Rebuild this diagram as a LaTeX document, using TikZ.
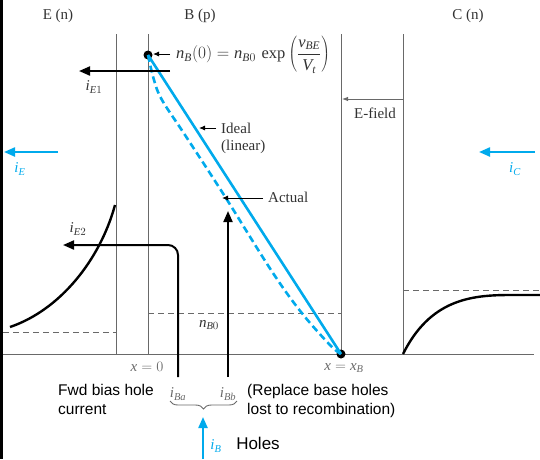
\documentclass[tikz,border=0pt]{standalone}
\usepackage{fontspec}
\setmainfont{Liberation Serif}
\newfontfamily\arial{Liberation Sans}
\usetikzlibrary{arrows.meta,decorations.pathreplacing}
\definecolor{cy}{RGB}{0,170,236}
\definecolor{ln}{RGB}{105,105,105}
\definecolor{tx}{RGB}{50,50,50}
\newcommand{\myit}[1]{\mathit{#1}}
\begin{document}
\begin{tikzpicture}[x=1pt,y=-1pt,
  gline/.style={draw=ln, line width=0.9pt},
  dline/.style={draw=ln, line width=0.9pt, dash pattern=on 6pt off 4pt},
  lbl/.style={font=\fontsize{15}{17}\selectfont, text=tx, inner sep=0pt},
  glbl/.style={font=\fontsize{15}{17}\selectfont, text=ln, inner sep=0pt},
  sl/.style={font=\arial\fontsize{15.5}{19}\selectfont, inner sep=0pt, align=left},
  barrow/.style={line width=2pt, -{Triangle[length=11pt,width=9pt]}},
  carrow/.style={draw=cy, line width=2.2pt, -{Triangle[length=11pt,width=9pt]}},
  ptr/.style={line width=0.9pt, -{Latex[length=6pt,width=5pt]}},
  bigdot/.style={circle, fill=black, inner sep=0pt, minimum size=9pt}
]
\useasboundingbox (0,0) rectangle (540,459);
% left border
\coordinate (bt) at (1.5,0); \coordinate (bb) at (1.5,459);
\draw[line width=3pt] (bt) -- (bb);
% axis
\coordinate (ax0) at (3,354); \coordinate (ax1) at (534,354);
\draw[gline] (ax0) -- (ax1);
% vertical boundaries
\foreach \n/\x in {a/116,b/148,c/341,d/403}{
  \coordinate (\n t) at (\x,34); \coordinate (\n b) at (\x,354);
  \draw[gline] (\n t) -- (\n b);
}
% region labels
\node[lbl] (lE) at (58,16) {E (n)};
\node[lbl] (lB) at (200,16) {B (p)};
\node[lbl] (lC) at (468,16) {C (n)};
% dashed equilibrium levels
\coordinate (e0) at (3,332); \coordinate (e1) at (116,332);
\draw[dline] (e0) -- (e1);
\coordinate (n0) at (148,313); \coordinate (n1) at (341,313);
\draw[dline] (n0) -- (n1);
\coordinate (c0) at (403,290); \coordinate (c1) at (540,290);
\draw[dline] (c0) -- (c1);
\node[lbl] (nB0) at (209,325) {$\myit{n}_{\myit{B}0}$};
% emitter and collector minority carrier curves
\draw[line width=2.4pt] (10,327) .. controls (60,310) and (100,260) .. (115,205);
\draw[line width=2.4pt] (403,354) .. controls (430,300) and (470,295) .. (510,295) -- (540,295);
% base profiles
\node[bigdot] (d0) at (148,55) {};
\node[bigdot] (dB) at (341,354) {};
\draw[cy, line width=2.6pt] (d0.center) -- (dB.center);
\draw[cy, line width=2.6pt, dash pattern=on 7pt off 4pt] plot[smooth, tension=0.6] coordinates
  {(148,55) (154,80) (162,100) (185,135) (224,195) (271,270) (301,312) (330,345) (341,354)};
% n_B(0) annotation
\coordinate (p0s) at (170,54); \coordinate (p0e) at (153,54);
\draw[ptr] (p0s) -- (p0e);
\node[anchor=west, inner sep=0pt, font=\fontsize{16.5}{19}\selectfont, text=tx] (nb0) at (176,55)
  {$\myit{n}_{\myit{B}}(0) = \myit{n}_{\myit{B}0}\,\exp\left(\displaystyle\frac{\myit{v}_{\myit{BE}}}{\myit{V}_{\myit{t}}}\right)$};
% Ideal annotation
\coordinate (pis) at (216,128); \coordinate (pie) at (199,128);
\draw[ptr] (pis) -- (pie);
\node[lbl, anchor=west, align=left] (ideal) at (221,138) {Ideal\\(linear)};
% Actual annotation
\coordinate (pas) at (263,198); \coordinate (pae) at (222,198);
\draw[ptr] (pas) -- (pae);
\node[lbl, anchor=west] (actual) at (268,197) {Actual};
% i_E1
\coordinate (e1s) at (170,71); \coordinate (e1e) at (79,71);
\draw[barrow] (e1s) -- (e1e);
\node[lbl] (iE1) at (94,87) {$\myit{i}_{\myit{E}1}$};
% i_E2 / i_Ba
\coordinate (bas) at (178,377); \coordinate (bac) at (178,245); \coordinate (bae) at (63,245);
\draw[barrow, rounded corners=10pt] (bas) -- (bac) -- (bae);
\node[lbl] (iE2) at (78,229) {$\myit{i}_{\myit{E}2}$};
% i_Bb
\coordinate (bbs) at (228,377); \coordinate (bbe) at (228,211);
\draw[barrow] (bbs) -- (bbe);
% E-field
\coordinate (efs) at (403,99); \coordinate (efe) at (342,99);
\draw[ln, line width=0.9pt, -{Latex[length=6pt,width=4.5pt]}] (efs) -- (efe);
\node[lbl] (ef) at (375,113) {E-field};
% terminal currents
\coordinate (ies) at (58,152); \coordinate (iee) at (4,152);
\draw[carrow] (ies) -- (iee);
\node[font=\fontsize{15}{17}\selectfont, text=cy, inner sep=0pt] (iE) at (20,169) {$\myit{i}_{\myit{E}}$};
\coordinate (ics) at (535,152); \coordinate (ice) at (479,152);
\draw[carrow] (ics) -- (ice);
\node[font=\fontsize{15}{17}\selectfont, text=cy, inner sep=0pt] (iC) at (515,169) {$\myit{i}_{\myit{C}}$};
% x labels
\node[glbl] (x0) at (147,367) {$\myit{x} = 0$};
\node[glbl] (xB) at (344,368) {$\myit{x} = \myit{x}_{\myit{B}}$};
% bottom annotations
\node[sl, anchor=north west] (fwd) at (58,384) {Fwd bias hole\\current};
\node[glbl] (iBa) at (178,394) {$\myit{i}_{\myit{Ba}}$};
\node[glbl] (iBb) at (228,394) {$\myit{i}_{\myit{Bb}}$};
\node[sl, anchor=north west] (rep) at (247,384) {(Replace base holes\\lost to recombination)};
\coordinate (brR) at (237,401); \coordinate (brL) at (170,401);
\draw[ln, line width=0.9pt, decorate, decoration={brace, amplitude=8pt}] (brR) -- (brL);
\coordinate (ibs) at (203,459); \coordinate (ibe) at (203,417);
\draw[carrow] (ibs) -- (ibe);
\node[font=\fontsize{15}{17}\selectfont, text=cy, inner sep=0pt] (iB) at (216,446) {$\myit{i}_{\myit{B}}$};
\node[sl, font=\arial\fontsize{17}{20}\selectfont] (holes) at (258,443) {Holes};
\end{tikzpicture}
\end{document}
